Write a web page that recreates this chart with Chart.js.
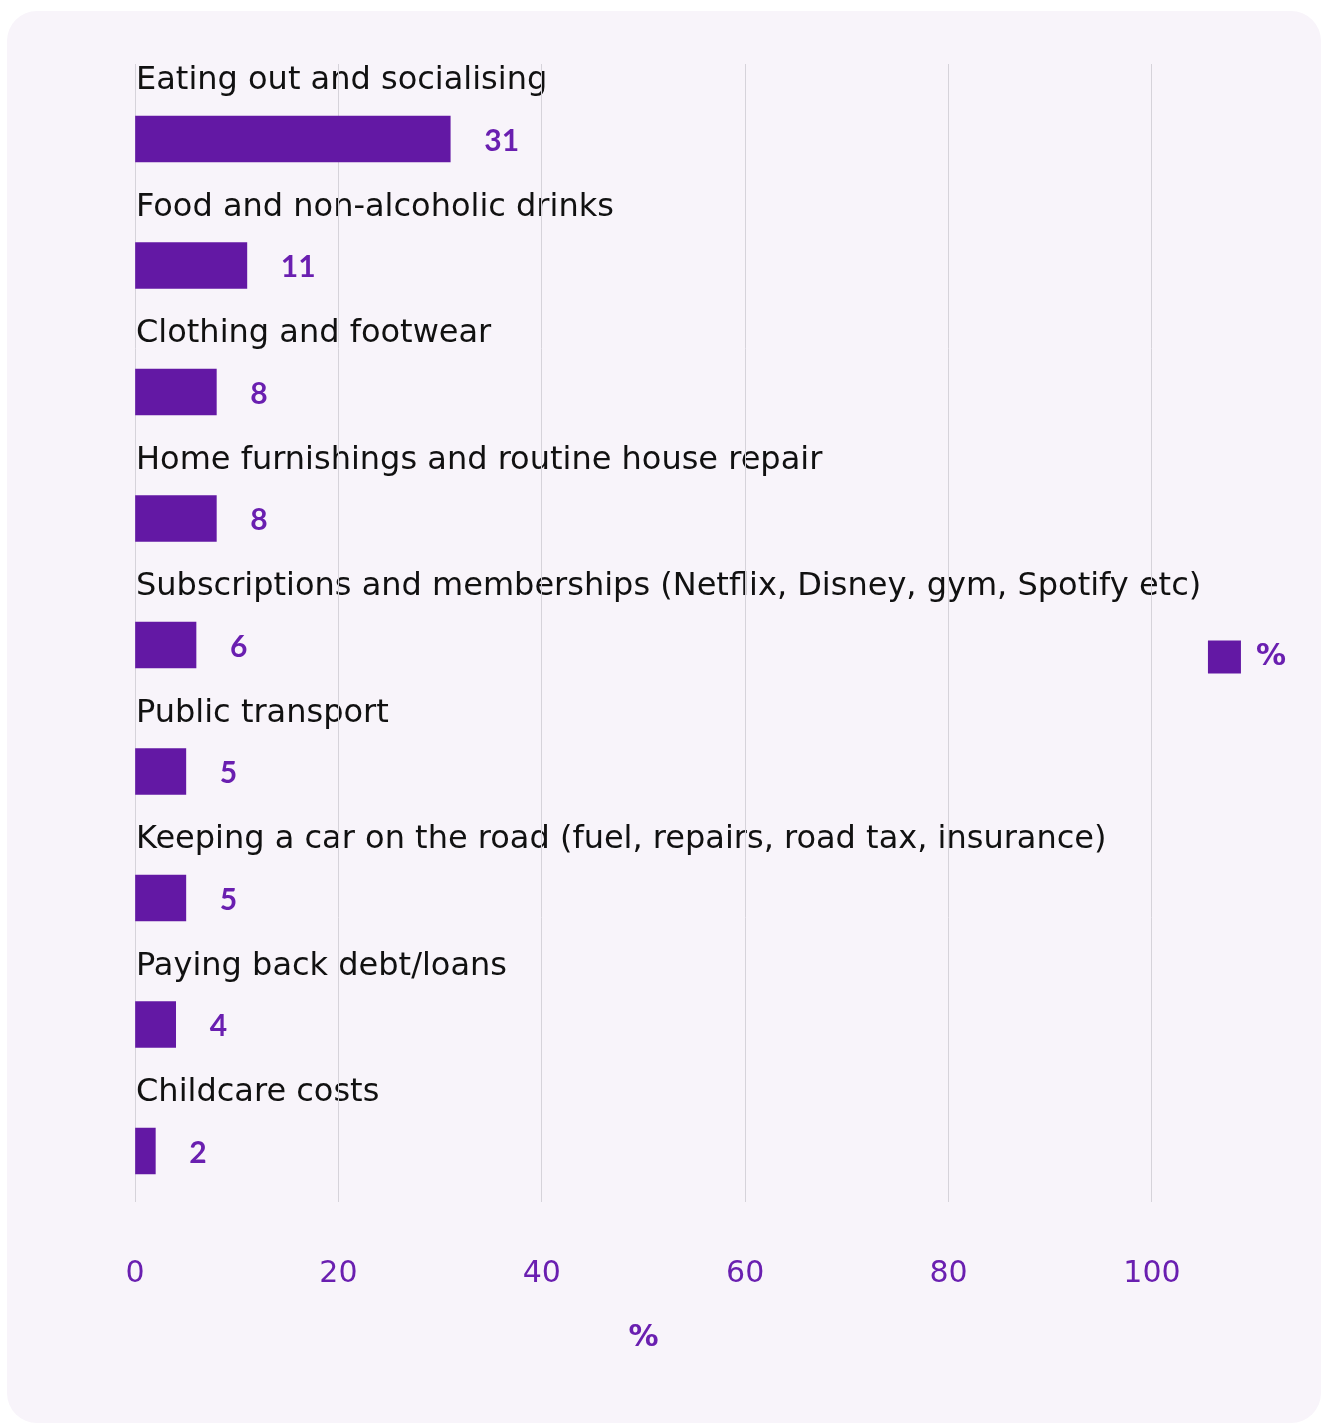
<!DOCTYPE html>
<html>
<head>
<meta charset="utf-8">
<script src="https://cdn.jsdelivr.net/npm/chart.js@4/dist/chart.umd.min.js"></script>
<style>
  html, body { margin: 0; padding: 0; background: #ffffff; }
  .card {
    position: absolute;
    left: 7px;
    top: 11px;
    width: 1314px;
    height: 1412px;
    border-radius: 30px;
    background: #f8f4fa;
    overflow: hidden;
  }
</style>
</head>
<body>
<div class="card">
  <canvas id="spend-chart" width="1314" height="1412"></canvas>
</div>
<script>
const categories = [
  'Eating out and socialising',
  'Food and non-alcoholic drinks',
  'Clothing and footwear',
  'Home furnishings and routine house repair',
  'Subscriptions and memberships (Netflix, Disney, gym, Spotify etc)',
  'Public transport',
  'Keeping a car on the road (fuel, repairs, road tax, insurance)',
  'Paying back debt/loans',
  'Childcare costs'
];
const values = [31, 11, 8, 8, 6, 5, 5, 4, 2];
const xTicks = [0, 20, 40, 60, 80, 100];
const seriesName = '%';

const PURPLE = '#6318a4';
const TEXT_PURPLE = '#6a1fb0';
const SANS = '"DejaVu Sans"';

// category names go under the grid lines, so draw them first
const categoryLabels = {
  id: 'categoryLabels',
  beforeDraw(chart) {
    const ctx = chart.ctx;
    const meta = chart.getDatasetMeta(0);
    ctx.save();
    ctx.textBaseline = 'middle';
    ctx.textAlign = 'left';
    ctx.font = '32px ' + SANS;
    ctx.fillStyle = '#111111';
    meta.data.forEach((bar, i) => {
      ctx.fillText(categories[i], chart.chartArea.left + 1, bar.y - 58);
    });
    ctx.restore();
  }
};

// value numbers to the right of each bar
const valueLabels = {
  id: 'valueLabels',
  afterDatasetsDraw(chart) {
    const ctx = chart.ctx;
    const meta = chart.getDatasetMeta(0);
    ctx.save();
    ctx.textBaseline = 'middle';
    ctx.textAlign = 'left';
    ctx.font = 'bold 30px Lato';
    ctx.fillStyle = TEXT_PURPLE;
    meta.data.forEach((bar, i) => {
      ctx.fillText(String(values[i]), bar.x + 34, bar.y + 2);
    });
    ctx.restore();
  }
};

new Chart(document.getElementById('spend-chart'), {
  type: 'bar',
  data: {
    datasets: [{
      label: seriesName,
      data: values.map((v, i) => ({ x: v, y: i })),
      backgroundColor: PURPLE,
      barThickness: 46
    }]
  },
  options: {
    indexAxis: 'y',
    responsive: false,
    animation: false,
    layout: { padding: { top: 53, left: 128, right: 25, bottom: 63 } },
    scales: {
      x: {
        type: 'linear',
        min: 0,
        max: 100,
        afterBuildTicks: (axis) => { axis.ticks = xTicks.map(v => ({ value: v })); },
        grid: { color: '#d6d3da', lineWidth: 1, drawTicks: false },
        border: { display: false },
        ticks: { color: TEXT_PURPLE, padding: 54, font: { family: SANS, size: 30 } },
        title: {
          display: true,
          text: seriesName,
          color: TEXT_PURPLE,
          // tick padding is counted twice when the axis is fitted
          padding: { top: -26, bottom: 4 },
          font: { family: SANS, size: 30, weight: 'bold' }
        }
      },
      y: {
        type: 'linear',
        display: false,
        offset: false,
        reverse: true,
        min: -0.593,
        max: 8.403
      }
    },
    plugins: {
      legend: {
        position: 'right',
        fullSize: false,
        // empty title just nudges the legend item down a little
        title: { display: true, text: ' ', padding: 12, font: { size: 20 } },
        labels: {
          boxWidth: 33,
          boxHeight: 33,
          padding: 56,
          color: TEXT_PURPLE,
          font: { family: SANS, size: 30, weight: 'bold' }
        }
      },
      tooltip: { enabled: false }
    }
  },
  plugins: [categoryLabels, valueLabels]
});
</script>
</body>
</html>
